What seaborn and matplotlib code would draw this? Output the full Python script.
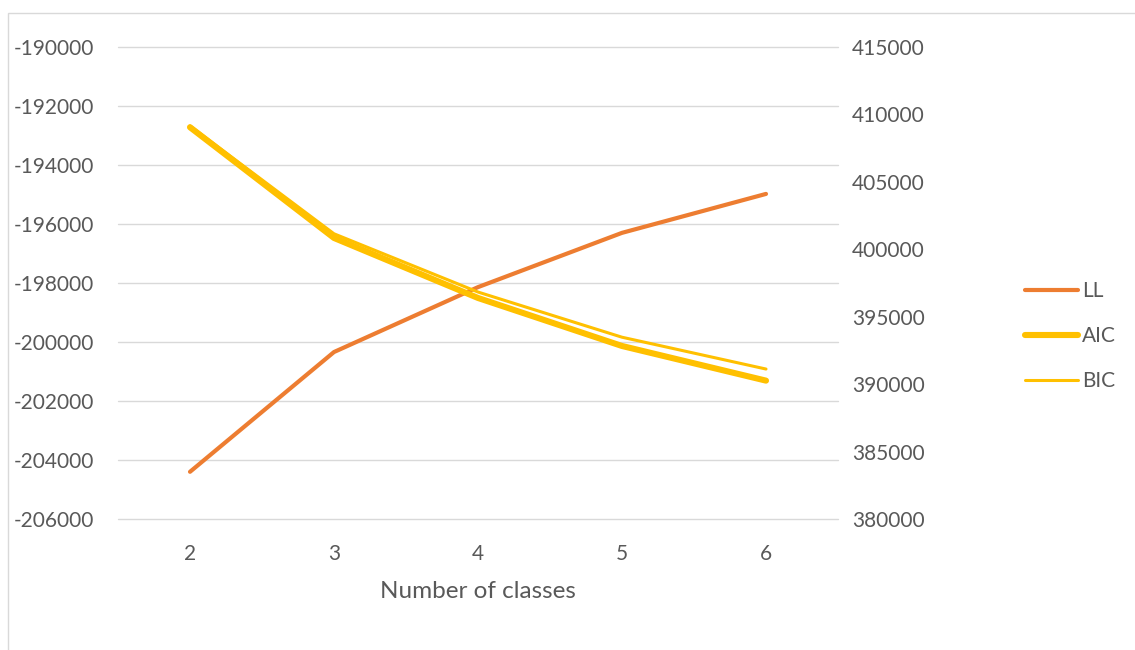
import matplotlib
matplotlib.use("Agg")
import matplotlib.pyplot as plt
from matplotlib.patches import Rectangle
import seaborn as sns
import pandas as pd

classes = [2, 3, 4, 5, 6]
ll = [-204400, -200340, -198140, -196300, -194980]
aic = [409050, 400840, 396390, 392830, 390260]
bic = [409150, 401150, 396830, 393480, 391120]

left_ticks = [-206000, -204000, -202000, -200000, -198000, -196000, -194000, -192000, -190000]
right_ticks = [380000, 385000, 390000, 395000, 400000, 405000, 410000, 415000]

sns.set_style("white")
plt.rcParams["font.family"] = ["Lato", "DejaVu Sans"]
plt.rcParams["axes.unicode_minus"] = False

text_col = "#595959"
grid_col = "#D9D9D9"
ll_col = "#ED7D31"
ic_col = "#FFC000"
fs = 15

df = pd.DataFrame({"classes": classes, "LL": ll, "AIC": aic, "BIC": bic})

fig = plt.figure(figsize=(11.35, 6.5), dpi=100)
ax = fig.add_axes([118 / 1135, 1 - 519 / 650, 720 / 1135, 472 / 650])
ax2 = ax.twinx()

sns.lineplot(data=df, x="classes", y="LL", ax=ax, color=ll_col, lw=3.0,
             solid_capstyle="round", label="LL", legend=False)
sns.lineplot(data=df, x="classes", y="AIC", ax=ax2, color=ic_col, lw=4.4,
             solid_capstyle="round", label="AIC", legend=False)
sns.lineplot(data=df, x="classes", y="BIC", ax=ax2, color=ic_col, lw=2.2,
             solid_capstyle="round", label="BIC", legend=False)

ax.set_xlim(classes[0] - 0.5, classes[-1] + 0.5)
ax.set_ylim(left_ticks[0], left_ticks[-1])
ax2.set_ylim(right_ticks[0], right_ticks[-1])
ax.set_yticks(left_ticks)
ax2.set_yticks(right_ticks)
ax.set_xticks(classes)
ax.set_xticklabels([str(c) for c in classes])

ax.grid(False)
ax2.grid(False)
for t in left_ticks:
    ax.axhline(t, color=grid_col, lw=1.0, zorder=0, clip_on=False)

for a in (ax, ax2):
    for s in a.spines.values():
        s.set_visible(False)
    a.tick_params(length=0, labelsize=fs, labelcolor=text_col)
for lab in ax.get_yticklabels():
    lab.set_horizontalalignment("left")
ax.tick_params(axis="y", pad=75)
ax.tick_params(axis="x", pad=18)
ax2.tick_params(axis="y", pad=10)

ax.set_xlabel("Number of classes", fontsize=17.5, color=text_col, labelpad=12)
ax.set_ylabel("")
ax2.set_ylabel("")

handles = ax.get_lines()[:1] + ax2.get_lines()[:2]
fig.legend(handles, ["LL", "AIC", "BIC"], loc="center left",
           bbox_to_anchor=(1006 / 1135, 1 - 336 / 650), frameon=False,
           fontsize=fs, labelcolor=text_col, handlelength=2.55,
           handletextpad=0.2, labelspacing=1.2)

fig.patches.append(Rectangle((8 / 1135, -0.01), 1.2, 1 - 13 / 650 + 0.01,
                             transform=fig.transFigure, fill=False,
                             edgecolor=grid_col, lw=1.0))

fig.savefig("out.png", dpi=100, facecolor="white")
